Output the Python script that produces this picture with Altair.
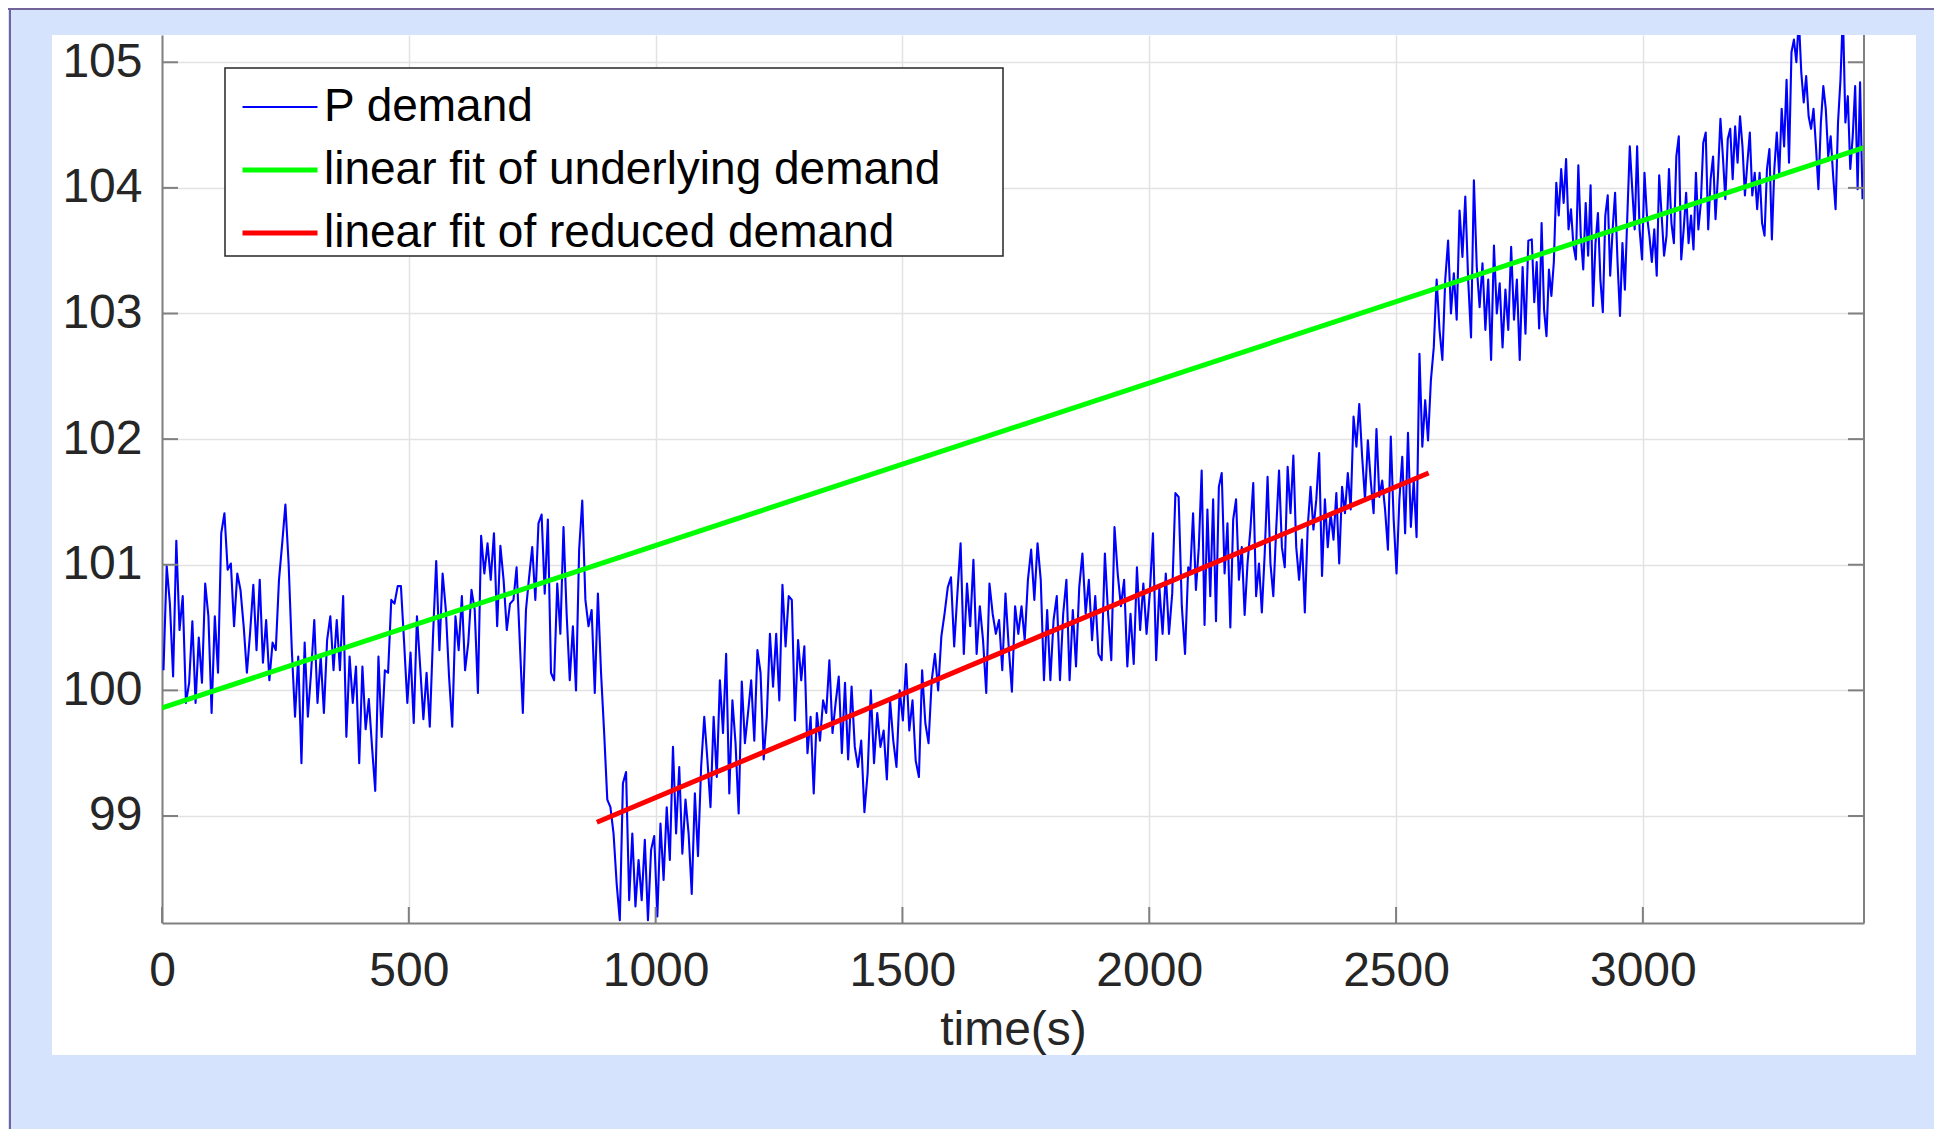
import altair as alt
import numpy as np
import pandas as pd

FONT = "Liberation Sans, Arial, Helvetica, sans-serif"

# ---- P demand readings, grouped in time segments ----
seg_a = [100.16, 100.99, 100.69, 100.11, 101.19, 100.48, 100.75, 99.90, 100.06, 100.55,
         99.90, 100.42, 100.06, 100.85, 100.59, 99.82, 100.59, 100.14, 101.25, 101.41,
         100.96, 101.01, 100.51, 100.93, 100.80, 100.51, 100.14, 100.46, 100.84, 100.32,
         100.88, 100.22, 100.56, 100.08, 100.38, 100.32, 100.88, 101.17, 101.48, 101.01,
         100.32, 99.79, 100.27, 99.42, 100.38, 99.79, 100.14, 100.56, 99.90, 100.27,
         99.82, 100.40, 100.59, 100.16, 100.56, 100.16, 100.75, 99.63, 100.27, 99.90,
         100.19, 99.42, 100.19, 99.69, 99.93, 99.55, 99.20, 100.27, 99.63, 100.16,
         100.14, 100.72, 100.69, 100.83, 100.83, 100.38, 99.90, 100.30, 99.74, 100.59,
         100.19, 99.77, 100.14, 99.71, 100.43, 101.03, 100.32, 100.93, 100.64, 100.11,
         99.71, 100.59, 100.32, 100.75, 100.16, 100.38, 100.80, 100.64, 99.98, 101.23,
         100.93, 101.17, 100.88, 101.25, 100.51, 101.15, 100.88, 100.48, 100.69]
seg_b = [100.72, 100.98, 100.40, 99.82, 100.64, 100.90, 101.14, 100.72, 101.33, 101.40,
         100.77, 101.36, 100.14, 100.08, 100.85, 100.45, 101.30, 100.61, 100.08, 100.51,
         100.00, 101.12, 101.51, 100.72, 100.51, 100.64, 99.98, 100.77, 100.14, 99.66,
         99.13, 99.07, 98.86, 98.46, 98.17, 99.26, 99.35, 98.33, 98.86, 98.28,
         98.65, 98.33, 98.81, 98.17, 98.73, 98.84, 98.20, 98.94, 98.49, 99.07,
         98.65, 99.55, 98.86, 99.39, 98.70, 99.13, 98.86, 98.38, 99.18, 98.68,
         99.39, 99.79, 99.45, 99.07, 99.79, 99.31, 100.08, 99.66, 100.29, 99.18,
         99.92, 99.58, 99.02, 100.07, 99.58, 99.82, 100.08, 99.60, 100.32, 100.14,
         99.45, 99.79, 100.45, 100.03, 100.45, 99.92, 100.84, 100.35, 100.75, 100.72,
         99.76, 100.40, 100.08, 100.35, 99.50, 99.79, 99.18, 99.82, 99.60, 99.92,
         99.82, 100.24, 99.66, 99.90, 100.11, 99.50, 100.06, 99.45]
seg_c = [100.03, 99.55, 99.39, 99.60, 99.03, 99.34, 100.00, 99.42, 99.82, 99.55,
         99.68, 99.29, 99.92, 99.60, 99.39, 100.00, 99.76, 100.21, 99.68, 99.92,
         99.44, 99.31, 100.16, 99.74, 99.58, 100.08, 100.29, 100.00, 100.43, 100.61,
         100.82, 100.90, 100.35, 100.77, 101.17, 100.29, 100.85, 100.51, 101.04, 100.29,
         100.67, 100.40, 99.98, 100.85, 100.61, 100.45, 100.56, 100.16, 100.77, 100.35,
         99.99, 100.67, 100.45, 100.67, 100.40, 100.88, 101.12, 100.72, 101.17, 100.88,
         100.08, 100.64, 100.08, 100.56, 100.75, 100.08, 100.61, 100.88, 100.08, 100.64,
         100.19, 100.82, 101.09, 100.61, 100.88, 100.40, 100.75, 100.29, 100.24, 101.09,
         100.61, 100.24, 101.30, 100.93, 100.67, 100.88, 100.19, 100.61, 100.21, 100.98,
         100.48, 100.85, 100.45, 100.77, 101.25, 100.24, 100.82, 100.45, 100.93, 100.45,
         100.77, 101.57, 101.54, 100.67, 100.29, 100.98]
seg_d = [100.93, 101.41, 100.80, 101.14, 101.75, 100.52, 101.44, 100.75, 101.52, 100.55,
         101.62, 101.73, 100.93, 101.33, 100.50, 101.36, 101.52, 100.88, 101.14, 100.60,
         101.01, 101.28, 101.65, 100.75, 101.01, 100.62, 101.09, 101.70, 101.01, 100.75,
         101.28, 101.75, 101.14, 100.98, 101.78, 101.41, 101.87, 101.14, 100.88, 101.20,
         100.62, 101.30, 101.62, 101.28, 101.52, 101.89, 100.91, 101.52, 101.14, 101.41,
         101.20, 101.57, 101.01, 101.62, 101.41, 101.73, 101.44, 102.18, 101.94, 102.28,
         101.86, 101.52, 101.99, 101.67, 101.41, 102.08, 101.54, 101.67, 101.44, 101.12,
         102.02, 101.36, 100.93, 101.52, 101.86, 101.25, 102.05, 101.30, 101.67, 101.22,
         102.68, 101.94, 102.31, 101.99, 102.47, 102.73, 103.27, 102.87, 102.63, 103.27,
         103.58, 103.00, 103.32, 102.95, 103.82, 103.45, 103.93, 103.27, 102.81, 104.06,
         103.37, 103.05, 103.40, 102.87, 103.27, 102.63, 103.54, 103.00, 103.24, 102.73,
         103.19, 102.87, 103.53, 102.95, 103.27, 102.63, 103.37, 102.84, 103.58]
seg_e = [103.59, 103.09, 103.41, 102.88, 103.72, 103.03, 102.82, 103.35, 103.14, 103.41,
         104.04, 103.78, 104.15, 103.88, 104.23, 103.67, 103.83, 103.54, 103.43, 104.18,
         103.62, 103.35, 103.88, 103.46, 104.02, 103.06, 103.56, 103.80, 103.27, 103.01,
         103.78, 103.94, 103.30, 103.67, 103.96, 103.41, 102.98, 103.56, 103.19, 103.78,
         104.33, 103.99, 103.67, 104.33, 103.67, 103.43, 104.12, 103.78, 103.62, 103.41,
         103.67, 103.30, 104.10, 103.78, 103.46, 103.62, 104.15, 103.72, 103.56, 104.25,
         104.41, 103.43, 103.67, 103.96, 103.56, 103.78, 103.51, 104.12, 103.67, 103.88,
         104.36, 104.44, 103.67, 104.07, 104.25, 103.75, 104.10, 104.55, 104.25, 103.91,
         104.39, 104.47, 104.07, 104.49, 104.20, 104.57, 104.33, 103.94, 104.20, 104.44,
         103.94, 104.12, 103.83, 104.12, 103.72, 103.62, 104.15, 104.31, 103.59, 104.15,
         104.44, 104.10, 104.63, 104.33, 104.86, 104.20, 105.08, 105.18, 105.00, 105.35,
         104.92, 104.68, 104.89, 104.57, 104.47, 104.63, 104.33, 103.99, 104.52, 104.81,
         104.63, 104.25, 104.41, 104.10, 103.83, 104.52, 104.86, 105.40, 104.52, 104.73,
         104.15, 104.41, 104.81, 103.99, 104.84, 103.91]
segments = [seg_a, seg_b, seg_c, seg_d, seg_e]
segment_spans = [(3, 705), (712, 1390), (1397, 2079), (2083, 2768), (2775, 3445)]

# ---- linear fits ----
underlying_t = [0, 3448]
underlying_v = [99.86, 104.32]
reduced_t = [881, 2566]
reduced_v = [98.95, 101.73]

series_names = ["P demand", "linear fit of underlying demand", "linear fit of reduced demand"]
series_colors = ["#0000ff", "#00ff00", "#ff0000"]
series_widths = [2.1, 5, 5]

x_ticks = [0, 500, 1000, 1500, 2000, 2500, 3000]
y_ticks = [99, 100, 101, 102, 103, 104, 105]
x_domain = [0, 3448]
y_domain = [98.148, 105.217]

# ---- build tables ----
t_all, v_all = [], []
for vals, (t0, t1) in zip(segments, segment_spans):
    t_all.extend(np.linspace(t0, t1, len(vals)).tolist())
    v_all.extend(vals)
blue_df = pd.DataFrame({"t": t_all, "v": v_all, "series": series_names[0]})
fit_df = pd.DataFrame({
    "t": underlying_t + reduced_t,
    "v": underlying_v + reduced_v,
    "series": [series_names[1]] * 2 + [series_names[2]] * 2,
})

W, H = 1702, 888
TXT = "#262626"
AX = "#808080"
FS = 48
LFS = 46

xscale = alt.Scale(domain=x_domain, nice=False, zero=False)
yscale = alt.Scale(domain=y_domain, nice=False, zero=False)

x_axis = alt.Axis(values=x_ticks, title="time(s)", grid=True, gridColor="#e2e2e2", gridWidth=1.5,
                  ticks=False, domainColor=AX, domainWidth=2, labelFont=FONT, labelFontSize=FS,
                  labelColor=TXT, labelPadding=24, labelFlush=False, labelOverlap=False, format="d",
                  titleFont=FONT, titleFontSize=FS, titleFontWeight="normal", titleColor=TXT,
                  titleBaseline="alphabetic", titleY=121)
y_axis = alt.Axis(values=y_ticks, title=None, grid=True, gridColor="#e2e2e2", gridWidth=1.5,
                  ticks=False, domainColor=AX, domainWidth=2, labelFont=FONT, labelFontSize=FS,
                  labelColor=TXT, labelPadding=20, labelFlush=False, labelOverlap=False, format="d")

X = alt.X("t:Q", scale=xscale, axis=x_axis)
Y = alt.Y("v:Q", scale=yscale, axis=y_axis)

legend = alt.Legend(title=None, orient="none", legendX=78, legendY=33, symbolType="stroke",
                    symbolSize=5625, labelFont=FONT, labelFontSize=LFS, labelColor="#000000",
                    labelOffset=4, rowPadding=0, padding=0, labelLimit=1000, direction="vertical")
color = alt.Color("series:N", scale=alt.Scale(domain=series_names, range=series_colors), legend=legend)
swidth = alt.StrokeWidth("series:N", scale=alt.Scale(type="ordinal", domain=series_names, range=series_widths),
                         legend=legend)

blue = alt.Chart(blue_df).mark_line(clip=True, strokeJoin="round").encode(x=X, y=Y, color=color, strokeWidth=swidth)
fits = alt.Chart(fit_df).mark_line(clip=True, strokeCap="butt").encode(x=X, y=Y, color=color, strokeWidth=swidth)

one = pd.DataFrame({"k": [0]})
BLUE_BG = "#d5e3fc"
strips = [
    alt.Chart(one).mark_rect(color=BLUE_BG).encode(x=alt.value(-154), x2=alt.value(-110), y=alt.value(-27), y2=alt.value(1094)),
    alt.Chart(one).mark_rect(color=BLUE_BG).encode(x=alt.value(-154), x2=alt.value(1772), y=alt.value(-27), y2=alt.value(0)),
    alt.Chart(one).mark_rect(color=BLUE_BG).encode(x=alt.value(1754), x2=alt.value(1772), y=alt.value(-27), y2=alt.value(1094)),
    alt.Chart(one).mark_rect(color=BLUE_BG).encode(x=alt.value(-154), x2=alt.value(1772), y=alt.value(1020), y2=alt.value(1094)),
]
frame = [
    alt.Chart(one).mark_rule(color="#72639a", strokeWidth=2).encode(x=alt.value(-152), y=alt.value(-27), y2=alt.value(1094)),
    alt.Chart(one).mark_rule(color="#72639a", strokeWidth=2).encode(x=alt.value(-154), x2=alt.value(1772), y=alt.value(-26)),
]
legend_box = alt.Chart(one).mark_rect(fill="#ffffff", stroke="#262626", strokeWidth=1.5).encode(
    x=alt.value(63), x2=alt.value(841), y=alt.value(33), y2=alt.value(221))

xt_df = pd.DataFrame({"t": x_ticks})
yt_df = pd.DataFrame({"v": y_ticks})
ticks = [
    alt.Chart(xt_df).mark_rule(color=AX, strokeWidth=2).encode(x=X, y=alt.value(H), y2=alt.value(H - 16)),
    alt.Chart(yt_df).mark_rule(color=AX, strokeWidth=2).encode(y=Y, x=alt.value(0), x2=alt.value(16)),
    alt.Chart(yt_df).mark_rule(color=AX, strokeWidth=2).encode(y=Y, x=alt.value(W - 16), x2=alt.value(W)),
    alt.Chart(one).mark_rule(color=AX, strokeWidth=2).encode(x=alt.value(W), y=alt.value(0), y2=alt.value(H)),
]

chart = alt.layer(*strips, blue, fits, *ticks, legend_box, *frame).properties(
    width=W, height=H,
    autosize=alt.AutoSizeParams(type="none"),
    padding={"left": 154, "top": 27, "right": 70, "bottom": 206},
    background="white",
).configure_view(strokeWidth=0)

chart.save("out.html", embed_options={"renderer": "svg", "actions": False})
